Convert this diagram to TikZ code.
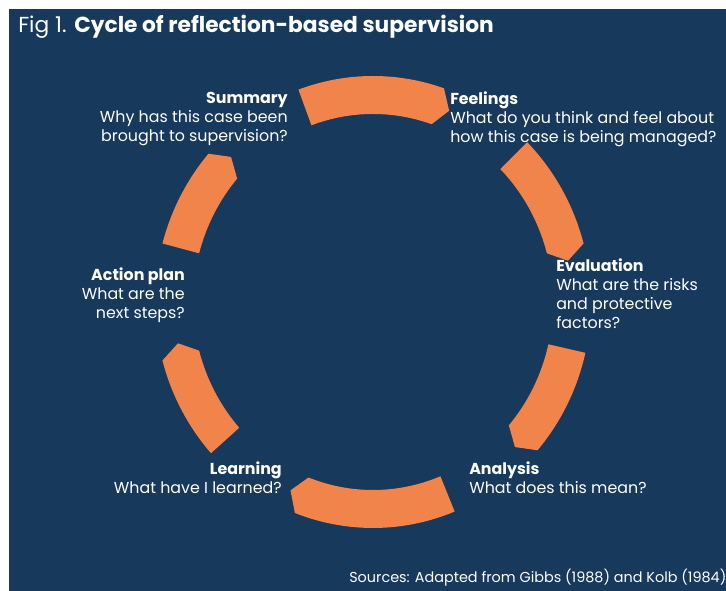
\documentclass[tikz,border=0pt]{standalone}
\usepackage{fontspec}
\setmainfont{Poppins}
\usetikzlibrary{calc}
\definecolor{navy}{HTML}{17395C}
\definecolor{arcorange}{HTML}{F0844A}
\definecolor{arcshadow}{HTML}{2E2A33}

% one orange segment of the cycle: #2 = tail angle, #3 = tip angle (clockwise)
\newcommand{\cyclearc}[3][arcorange]{%
  \fill[#1] ($(c)+(#2:218 and 226)$)
    arc[start angle=#2,end angle=#3,x radius=218,y radius=226]
    -- ($(c)+(#3-3.5:199 and 207)$)
    -- ($(c)+(#3:180 and 188)$)
    arc[start angle=#3,end angle=#2,x radius=180,y radius=188]
    -- cycle;}

\tikzset{
  lbl/.style={text=white,inner sep=0pt,font=\fontsize{11.9}{14.2}\selectfont},
  lblL/.style={lbl,align=left,anchor=north west},
  lblR/.style={lbl,align=right,anchor=north east},
}

\begin{document}
\begin{tikzpicture}[x=0.75pt,y=0.75pt]
\useasboundingbox (0,0) rectangle (726,591);
\fill[white] (0,0) rectangle (726,591);
\fill[navy] (9,0) rectangle (726,582);

\coordinate (c) at (373,289);

% drop shadows
\begin{scope}[shift={(1.5,-2.5)}]
  \cyclearc[arcshadow]{110}{71}
  \cyclearc[arcshadow]{45}{15}
  \cyclearc[arcshadow]{-13}{-41}
  \cyclearc[arcshadow]{-68}{-111}
  \cyclearc[arcshadow]{-138}{-165}
  \cyclearc[arcshadow]{165}{139}
\end{scope}
% cycle segments
\cyclearc{110}{71}
\cyclearc{45}{15}
\cyclearc{-13}{-41}
\cyclearc{-68}{-111}
\cyclearc{-138}{-165}
\cyclearc{165}{139}

% title
\node[text=white,inner sep=0pt,anchor=base west,font=\fontsize{16.3}{19}\selectfont]
  (title) at (18,558) {Fig 1. \textbf{Cycle of reflection-based supervision}};

% stage labels
\node[lblR] (summary) at (288,499)
  {\textbf{Summary}\\Why has this case been\\brought to supervision?};
\node[lblL] (feelings) at (450,499)
  {\textbf{Feelings}\\What do you think and feel about\\how this case is being managed?};
\node[lblL] (evaluation) at (556,332)
  {\textbf{Evaluation}\\What are the risks\\and protective\\factors?};
\node[lblL] (analysis) at (469,129)
  {\textbf{Analysis}\\What does this mean?};
\node[lblR] (learning) at (282,129)
  {\textbf{Learning}\\What have I learned?};
\node[lblR] (action) at (185,323)
  {\textbf{Action plan}\\What are the\\next steps?};

% sources
\node[text=white,inner sep=0pt,anchor=base west,font=\fontsize{10.8}{12}\selectfont]
  (sources) at (349,8) {Sources: Adapted from Gibbs (1988) and Kolb (1984)};
\end{tikzpicture}
\end{document}
